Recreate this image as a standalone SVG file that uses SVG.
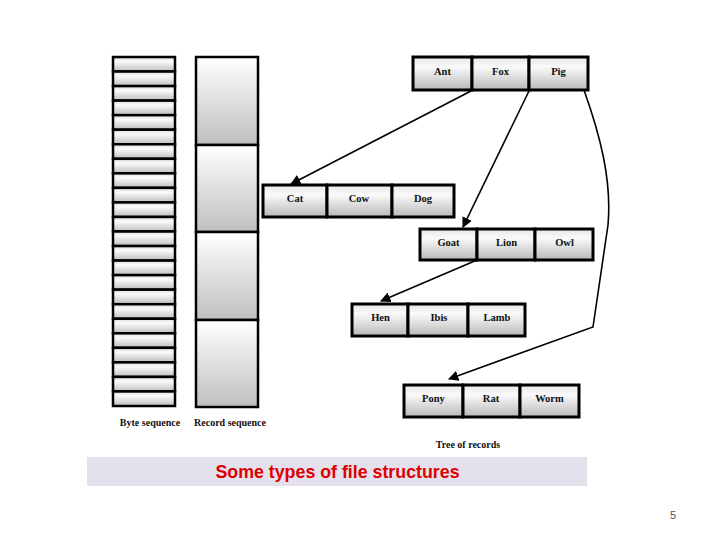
<svg xmlns="http://www.w3.org/2000/svg" width="720" height="540" viewBox="0 0 720 540">
<defs>
<linearGradient id="gb" x1="0" y1="0" x2="0" y2="1">
<stop offset="0" stop-color="#dcdcdc"/>
<stop offset="0.3" stop-color="#fbfbfb"/>
<stop offset="1" stop-color="#bdbdbd"/>
</linearGradient>
<linearGradient id="gr" x1="0" y1="0" x2="0" y2="1">
<stop offset="0" stop-color="#ffffff"/>
<stop offset="1" stop-color="#bfbfbf"/>
</linearGradient>
<linearGradient id="gc" x1="0" y1="0" x2="0" y2="1">
<stop offset="0" stop-color="#e6e6e6"/>
<stop offset="0.3" stop-color="#fafafa"/>
<stop offset="1" stop-color="#b9b9b9"/>
</linearGradient>
<marker id="ah" viewBox="0 0 10 10" refX="9" refY="5" markerWidth="6.5" markerHeight="6.5" orient="auto" markerUnits="strokeWidth">
<path d="M0,0 L10,5 L0,10 z" fill="#000"/>
</marker>
</defs>
<style>
.b{fill:url(#gb);stroke:#000;stroke-width:2.5}
.r{fill:url(#gr);stroke:#000;stroke-width:2.5}
.c{fill:url(#gc);stroke:#000;stroke-width:3}
.t{font-family:"Liberation Serif",serif;font-weight:bold;font-size:10.5px;fill:#111;text-anchor:middle}
.l{font-family:"Liberation Serif",serif;font-weight:bold;font-size:10px;fill:#111;text-anchor:middle}
.e{fill:none;stroke:#000;stroke-width:1.6}
</style>
<rect width="720" height="540" fill="#fff"/>
<g id="byte-sequence">
<rect class="b" x="113" y="57" width="62" height="14.54"/>
<rect class="b" x="113" y="71.54" width="62" height="14.54"/>
<rect class="b" x="113" y="86.08" width="62" height="14.54"/>
<rect class="b" x="113" y="100.62" width="62" height="14.54"/>
<rect class="b" x="113" y="115.17" width="62" height="14.54"/>
<rect class="b" x="113" y="129.71" width="62" height="14.54"/>
<rect class="b" x="113" y="144.25" width="62" height="14.54"/>
<rect class="b" x="113" y="158.79" width="62" height="14.54"/>
<rect class="b" x="113" y="173.33" width="62" height="14.54"/>
<rect class="b" x="113" y="187.87" width="62" height="14.54"/>
<rect class="b" x="113" y="202.42" width="62" height="14.54"/>
<rect class="b" x="113" y="216.96" width="62" height="14.54"/>
<rect class="b" x="113" y="231.5" width="62" height="14.54"/>
<rect class="b" x="113" y="246.04" width="62" height="14.54"/>
<rect class="b" x="113" y="260.58" width="62" height="14.54"/>
<rect class="b" x="113" y="275.12" width="62" height="14.54"/>
<rect class="b" x="113" y="289.67" width="62" height="14.54"/>
<rect class="b" x="113" y="304.21" width="62" height="14.54"/>
<rect class="b" x="113" y="318.75" width="62" height="14.54"/>
<rect class="b" x="113" y="333.29" width="62" height="14.54"/>
<rect class="b" x="113" y="347.83" width="62" height="14.54"/>
<rect class="b" x="113" y="362.37" width="62" height="14.54"/>
<rect class="b" x="113" y="376.92" width="62" height="14.54"/>
<rect class="b" x="113" y="391.46" width="62" height="14.54"/>
<text class="l" x="150" y="426">Byte sequence</text>
</g>
<g id="record-sequence">
<rect class="r" x="196" y="57" width="62" height="88"/>
<rect class="r" x="196" y="145" width="62" height="87"/>
<rect class="r" x="196" y="232" width="62" height="88"/>
<rect class="r" x="196" y="320" width="62" height="87"/>
<text class="l" x="230" y="426">Record sequence</text>
</g>
<g id="node-ant-fox-pig">
<rect class="c" x="413" y="57" width="59" height="33"/>
<rect class="c" x="472" y="57" width="57" height="33"/>
<rect class="c" x="529" y="57" width="59" height="33"/>
<text class="t" x="442.5" y="75">Ant</text>
<text class="t" x="500.5" y="75">Fox</text>
<text class="t" x="558.5" y="75">Pig</text>
</g>
<g id="node-cat-cow-dog">
<rect class="c" x="263" y="185" width="64" height="32"/>
<rect class="c" x="327" y="185" width="65" height="32"/>
<rect class="c" x="392" y="185" width="62" height="32"/>
<text class="t" x="295" y="202">Cat</text>
<text class="t" x="359" y="202">Cow</text>
<text class="t" x="423" y="202">Dog</text>
</g>
<g id="node-goat-lion-owl">
<rect class="c" x="420" y="229" width="57" height="31"/>
<rect class="c" x="477" y="229" width="58" height="31"/>
<rect class="c" x="535" y="229" width="58" height="31"/>
<text class="t" x="448.5" y="245.5">Goat</text>
<text class="t" x="506.5" y="245.5">Lion</text>
<text class="t" x="564.5" y="245.5">Owl</text>
</g>
<g id="node-hen-ibis-lamb">
<rect class="c" x="352" y="304" width="56" height="32"/>
<rect class="c" x="408" y="304" width="60" height="32"/>
<rect class="c" x="468" y="304" width="57" height="32"/>
<text class="t" x="380.5" y="321">Hen</text>
<text class="t" x="439" y="321">Ibis</text>
<text class="t" x="497" y="321">Lamb</text>
</g>
<g id="node-pony-rat-worm">
<rect class="c" x="404" y="385" width="59" height="32"/>
<rect class="c" x="463" y="385" width="57" height="32"/>
<rect class="c" x="520" y="385" width="59" height="32"/>
<text class="t" x="433.5" y="402">Pony</text>
<text class="t" x="491" y="402">Rat</text>
<text class="t" x="549.5" y="402">Worm</text>
</g>
<g id="connectors">
<path class="e" d="M471,91 L291,184" marker-end="url(#ah)"/>
<path class="e" d="M529,91 L463,227" marker-end="url(#ah)"/>
<path class="e" d="M477,260 L381,301" marker-end="url(#ah)"/>
<path class="e" d="M584,90 C600,135 612,180 608,225 L593,327 L449,379" marker-end="url(#ah)"/>
</g>
<text class="l" x="468" y="448">Tree of records</text>
<rect x="87" y="457" width="500" height="29" fill="#e4e0ec"/>
<text x="337.5" y="478" font-family="Liberation Sans,Arial,sans-serif" font-weight="bold" font-size="17.8" fill="#dd0000" text-anchor="middle">Some types of file structures</text>
<text x="673" y="519" font-family="Liberation Sans,Arial,sans-serif" font-size="11" fill="#555" text-anchor="middle">5</text>
</svg>
